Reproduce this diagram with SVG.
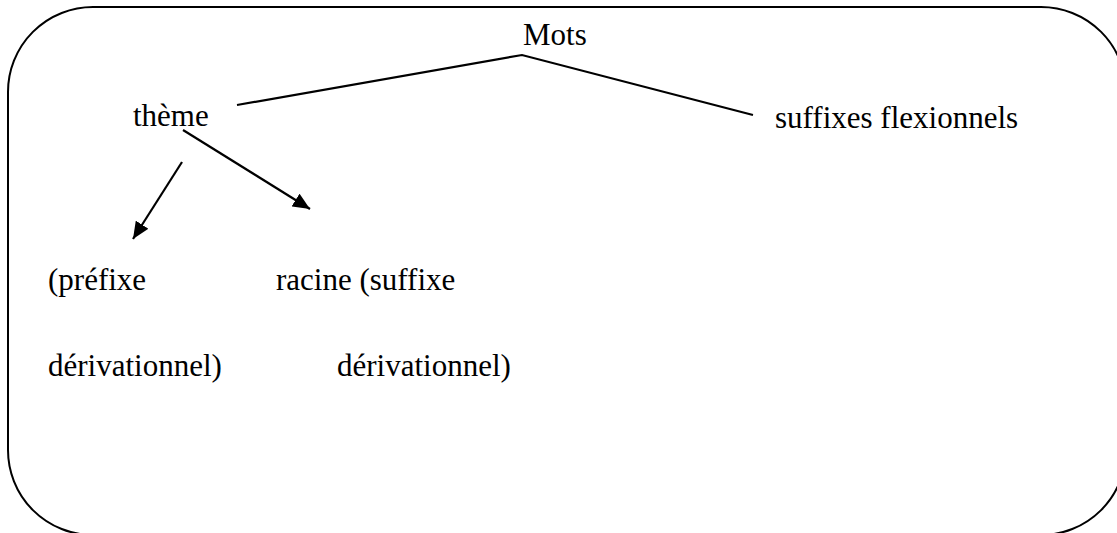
<svg xmlns="http://www.w3.org/2000/svg" width="1117" height="533" viewBox="0 0 1117 533">
<style>
.t{font-family:"Liberation Serif","Times New Roman",serif;font-size:31px;fill:#000}
.c{stroke:#000;stroke-width:2.2;fill:none}
</style>
<defs>
<marker id="a" viewBox="0 0 17 15" refX="17" refY="7.5" markerWidth="17" markerHeight="15" markerUnits="userSpaceOnUse" orient="auto">
<path d="M0,0 L17,7.5 L0,15 z" fill="#000"/>
</marker>
</defs>
<rect id="frame" x="8" y="7" width="1118" height="528" rx="85" ry="85" fill="#fff" stroke="#000" stroke-width="2"/>
<g id="connectors">
<polyline class="c" points="237,105 522,55 753,115"/>
<line class="c" x1="182" y1="162" x2="133" y2="239" marker-end="url(#a)"/>
<line class="c" x1="183" y1="130" x2="310" y2="209" marker-end="url(#a)"/>
</g>
<g id="mots"><text class="t" x="523" y="45">Mots</text></g>
<g id="theme"><text class="t" x="133" y="126">thème</text></g>
<g id="suffixes-flexionnels"><text class="t" x="775" y="128">suffixes flexionnels</text></g>
<g id="prefixe"><text class="t" x="48" y="290">(préfixe</text><text class="t" x="48" y="376">dérivationnel)</text></g>
<g id="racine"><text class="t" x="276" y="290">racine (suffixe</text><text class="t" x="337" y="376">dérivationnel)</text></g>
</svg>
